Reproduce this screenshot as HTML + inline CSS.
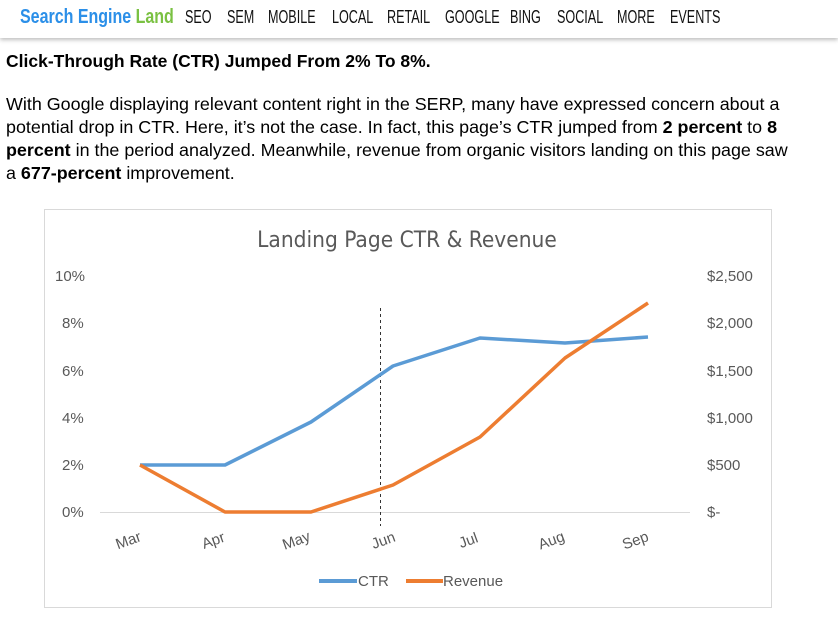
<!DOCTYPE html>
<html><head><style>
body{margin:0;width:838px;height:619px;background:#fff;font-family:"Liberation Sans",sans-serif;overflow:hidden;position:relative}
.hdr{position:absolute;left:0;top:0;width:838px;height:38px;background:#fff;box-shadow:0 2px 4px rgba(0,0,0,.25)}
.n{position:absolute;top:7px;font-family:"Liberation Sans Narrow","Liberation Sans",sans-serif;font-size:18px;transform:scaleX(.7);transform-origin:left;white-space:nowrap;color:#111}
.t{position:absolute;left:6px;font-size:17.9px;color:#000;line-height:23px;white-space:nowrap}
</style></head><body>
<div class="hdr"></div>
<div class="n" style="left:20px;font-size:20px;top:6px;transform:scaleX(.8)"><b style="color:#2b8fe8">Search Engine </b><b style="color:#7ac142">Land</b></div>
<div class="n" style="left:185px">SEO</div>
<div class="n" style="left:227px">SEM</div>
<div class="n" style="left:268px">MOBILE</div>
<div class="n" style="left:332px">LOCAL</div>
<div class="n" style="left:387px">RETAIL</div>
<div class="n" style="left:445px">GOOGLE</div>
<div class="n" style="left:510px">BING</div>
<div class="n" style="left:557px">SOCIAL</div>
<div class="n" style="left:617px">MORE</div>
<div class="n" style="left:670px">EVENTS</div>
<div class="t" style="top:50px;font-weight:bold;font-size:17.5px">Click-Through Rate (CTR) Jumped From 2% To 8%.</div>
<div class="t" style="top:93px">With Google displaying relevant content right in the SERP, many have expressed concern about a<br>potential drop in CTR. Here, it’s not the case. In fact, this page’s CTR jumped from <b>2 percent</b> to <b>8</b><br><b>percent</b> in the period analyzed. Meanwhile, revenue from organic visitors landing on this page saw<br>a <b>677-percent</b> improvement.</div>
<svg style="position:absolute;left:0;top:0" width="838" height="619" font-family="Liberation Sans Narrow, Liberation Sans, sans-serif" fill="#595959" font-size="15">
<rect x="44.5" y="209.5" width="727" height="398" fill="#fff" stroke="#d9d9d9"/>
<text x="407" y="247" text-anchor="middle" fill="#595959" font-family="DejaVu Sans Condensed, Liberation Sans, sans-serif" font-size="22.5">Landing Page CTR &amp; Revenue</text>
<line x1="100" y1="512.5" x2="690" y2="512.5" stroke="#d9d9d9"/>
<line x1="380.5" y1="308" x2="380.5" y2="526" stroke="#333" stroke-dasharray="3,3"/>
<g>
<text x="55" y="281">10%</text><text x="62" y="328">8%</text><text x="62" y="376">6%</text><text x="62" y="423">4%</text><text x="62" y="470">2%</text><text x="62" y="517">0%</text>
</g>
<g>
<text x="707" y="281">$2,500</text><text x="707" y="328">$2,000</text><text x="707" y="376">$1,500</text><text x="707" y="423">$1,000</text><text x="707" y="470">$500</text><text x="707" y="517">$-</text>
</g>
<g text-anchor="middle">
<text transform="translate(130,545) rotate(-20)">Mar</text>
<text transform="translate(215,545) rotate(-20)">Apr</text>
<text transform="translate(298,545) rotate(-20)">May</text>
<text transform="translate(385,545) rotate(-20)">Jun</text>
<text transform="translate(470,545) rotate(-20)">Jul</text>
<text transform="translate(553,545) rotate(-20)">Aug</text>
<text transform="translate(637,545) rotate(-20)">Sep</text>
</g>
<polyline fill="none" stroke="#5b9bd5" stroke-width="3.5" stroke-linejoin="round" points="140,465 225,465 311,422 393,366 480,338 565,343 648,337"/>
<polyline fill="none" stroke="#ed7d31" stroke-width="3.5" stroke-linejoin="round" points="140,465 225,512 311,512 393,485 480,437 565,358 648,303"/>
<line x1="319" y1="581" x2="357" y2="581" stroke="#5b9bd5" stroke-width="4"/>
<text x="358" y="586">CTR</text>
<line x1="406" y1="581" x2="443" y2="581" stroke="#ed7d31" stroke-width="4"/>
<text x="443" y="586">Revenue</text>
</svg>
</body></html>
